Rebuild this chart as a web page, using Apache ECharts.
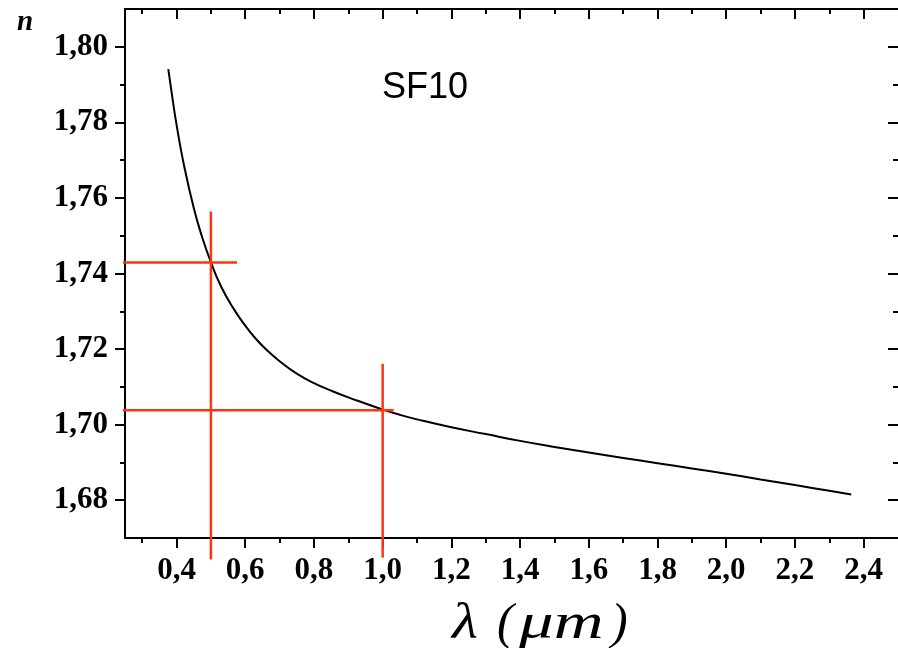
<!DOCTYPE html>
<html>
<head>
<meta charset="utf-8">
<script src="https://cdn.jsdelivr.net/npm/echarts@6/dist/echarts.min.js"></script>
<style>html,body{margin:0;padding:0;background:#fff;}#chart{width:898px;height:648px;}</style>
</head>
<body>
<div id="chart"></div>
<script>
// Dispersion curve of SF10 glass
const lambdaUm = [0.376, 0.39, 0.40, 0.42, 0.45, 0.475, 0.50, 0.53, 0.566, 0.60, 0.63, 0.663, 0.70, 0.75, 0.80, 0.85, 0.90, 0.95, 1.00,
  1.05, 1.10, 1.20, 1.30, 1.40, 1.50, 1.60, 1.70, 1.80, 1.90, 2.00, 2.10, 2.20, 2.30, 2.364];
const nIndex = [1.7941, 1.7852, 1.7794, 1.7694, 1.7574, 1.7495, 1.7430, 1.7365, 1.7307, 1.7262, 1.7228, 1.7197, 1.7168, 1.7135, 1.7110, 1.7090, 1.7072, 1.7056, 1.7040,
  1.7026, 1.7014, 1.6993, 1.6975, 1.6957, 1.6941, 1.6926, 1.6912, 1.6898, 1.6884, 1.6870, 1.6855, 1.6840, 1.6825, 1.6815];

// Red cross-hair markers
const crossLambda = [0.5, 1.0];
const crossN = [1.7429, 1.7038];
const hLineFrom = [0.221, 0.204];
const hLineTo = [0.576, 1.032];
const vLineFrom = [1.6643, 1.6648];
const vLineTo = [1.7564, 1.7161];

// Ticks
const xMajorTicks = [0.4, 0.6, 0.8, 1.0, 1.2, 1.4, 1.6, 1.8, 2.0, 2.2, 2.4];
const xMinorTicks = [0.3, 0.5, 0.7, 0.9, 1.1, 1.3, 1.5, 1.7, 1.9, 2.1, 2.3];
const yMajorTicks = [1.68, 1.70, 1.72, 1.74, 1.76, 1.78, 1.80];
const yMinorTicks = [1.69, 1.71, 1.73, 1.75, 1.77, 1.79];

const labelText = "SF10";
const xTitleParts = ["λ", "(", "μm", ")"];
const yTitle = "n";

const chart = echarts.init(document.getElementById('chart'), null, {renderer: 'canvas'});

const curve = lambdaUm.map((l, i) => [l, nIndex[i]]);
const redSeries = [];
crossLambda.forEach((l, i) => {
  redSeries.push({type: 'line', data: [[hLineFrom[i], crossN[i]], [hLineTo[i], crossN[i]]], clip: false, showSymbol: false, silent: true,
    lineStyle: {color: '#ff3510', width: 2.5}, z: 3});
  redSeries.push({type: 'line', data: [[l, vLineFrom[i]], [l, vLineTo[i]]], clip: false, showSymbol: false, silent: true,
    lineStyle: {color: '#ff3510', width: 2.5}, z: 3});
});

const xRange = {min: 0.25, max: 2.5};
const yRange = {min: 1.67, max: 1.81};
const lineStyle = {color: '#000', width: 2};
const labelFont = {fontFamily: 'Liberation Serif', fontWeight: 'bold', fontSize: 31, color: '#000'};

function xAx(pos, ticks, len, inside, showLabel, showLine) {
  return Object.assign({type: 'value', position: pos, splitLine: {show: false},
    axisLine: {show: showLine, lineStyle: lineStyle, onZero: false},
    axisTick: {show: true, customValues: ticks, length: len, inside: inside, lineStyle: lineStyle},
    axisLabel: showLabel ? Object.assign({show: true, customValues: ticks, margin: 17,
      formatter: v => v.toFixed(1).replace('.', ',')}, labelFont) : {show: false}}, xRange);
}
function yAx(pos, ticks, len, inside, showLabel, showLine) {
  return Object.assign({type: 'value', position: pos, splitLine: {show: false},
    axisLine: {show: showLine, lineStyle: lineStyle, onZero: false},
    axisTick: {show: true, customValues: ticks, length: len, inside: inside, lineStyle: lineStyle},
    axisLabel: showLabel ? Object.assign({show: true, customValues: ticks, margin: 17,
      formatter: v => v.toFixed(2).replace('.', ',')}, labelFont) : {show: false}}, yRange);
}

const titleFont = 'italic 50px "Liberation Serif", serif';
const titlePos = [[452, 1.2], [497, 1.0], [519, 1.38], [611, 1.0]];
const titleGraphics = xTitleParts.map((t, i) => ({
  type: 'text', x: titlePos[i][0], y: 600, scaleX: titlePos[i][1], originX: 0, originY: 0,
  style: {text: t, font: titleFont, fill: '#000', align: 'left', verticalAlign: 'top'}
}));

chart.setOption({
  animation: false,
  backgroundColor: '#fff',
  grid: {left: 125, top: 9, width: 775, height: 529, containLabel: false},
  xAxis: [
    xAx('bottom', xMajorTicks, 10, false, true, true),
    xAx('bottom', xMinorTicks, 5, false, false, false),
    xAx('top', xMajorTicks, 10, true, false, true),
    xAx('top', xMinorTicks, 5, true, false, false)
  ],
  yAxis: [
    yAx('left', yMajorTicks, 10, false, true, true),
    yAx('left', yMinorTicks, 5, false, false, false),
    yAx('right', yMajorTicks, 10, true, false, false),
    yAx('right', yMinorTicks, 5, true, false, false)
  ],
  series: [
    {type: 'line', data: curve, smooth: 0.5, showSymbol: false, lineStyle: {color: '#000', width: 2}, z: 2, clip: false}
  ].concat(redSeries),
  graphic: [
    {type: 'text', left: 382, top: 70, style: {text: labelText, font: '36px "Liberation Sans", Arial, sans-serif', fill: '#000'}},
    {type: 'text', left: 17, top: 8, style: {text: yTitle, font: 'italic bold 29px "Liberation Serif", serif', fill: '#000'}}
  ].concat(titleGraphics)
});
</script>
</body>
</html>
